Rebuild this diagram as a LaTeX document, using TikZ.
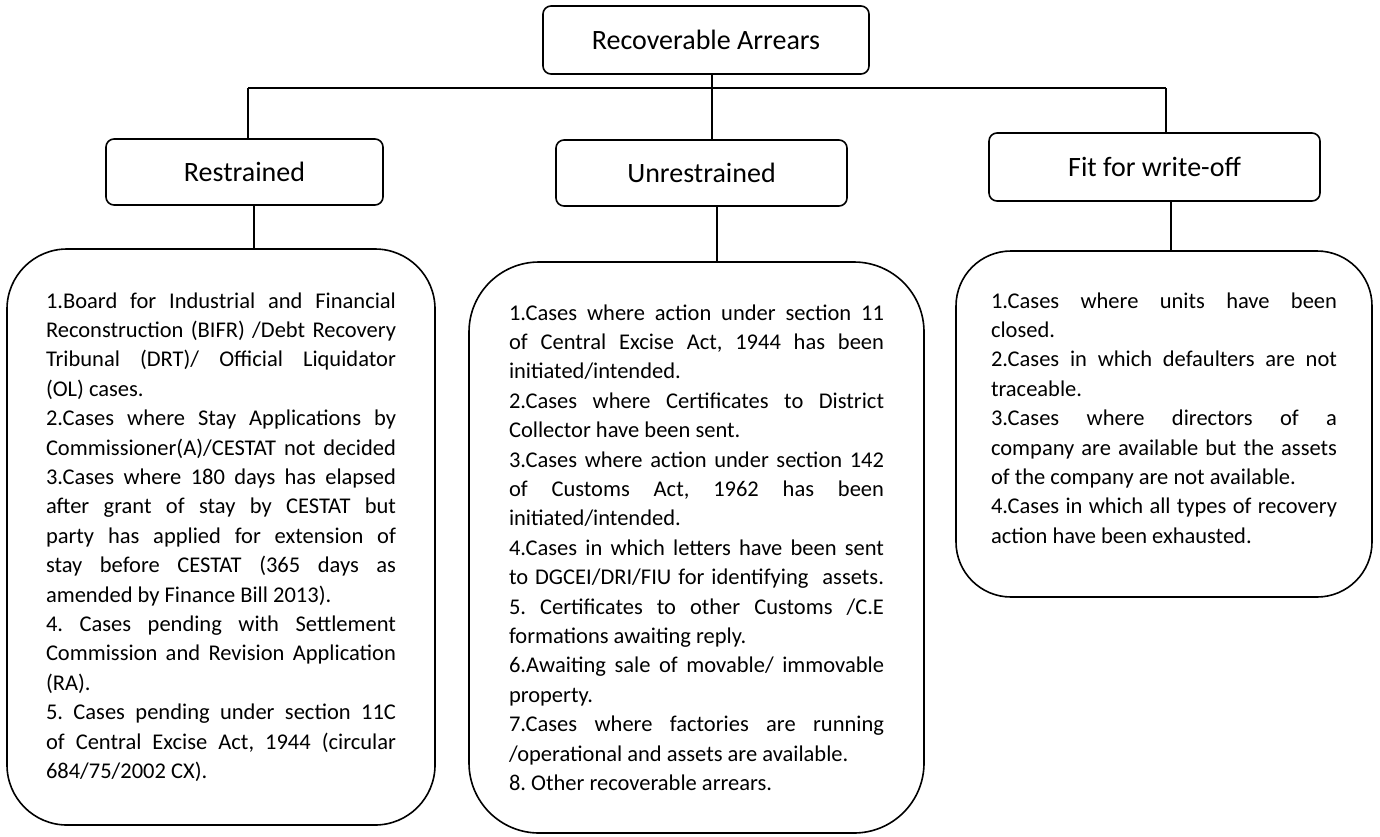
\documentclass[tikz,border=0pt]{standalone}
\usepackage{fontspec}
\setmainfont{Carlito}
\frenchspacing
\newlength\bw
\newcommand\jl[1]{\hbox to \bw{\spaceskip=\fontdimen2\font plus 1fil minus 0.3\fontdimen2\font\relax\xspaceskip=\spaceskip #1}}
\newcommand\rl[1]{\hbox to \bw{#1\hfil}}
\tikzset{
  hdr/.style={draw, line width=1.6pt, rounded corners=8pt, inner sep=0pt,
    font=\fontsize{28}{33}\selectfont},
  big/.style={draw, line width=1.6pt, inner sep=0pt,
    font=\fontsize{22.5}{29.4}\selectfont},
  conn/.style={line width=1.6pt}
}
\begin{document}
\begin{tikzpicture}[x=1pt,y=-1pt]
\useasboundingbox (0,0) rectangle (1380,836);
% header boxes
\node[hdr, minimum width=326, minimum height=68] (top) at (706,40) {Recoverable Arrears};
\node[hdr, minimum width=277, minimum height=66] (restr) at (244.5,172) {Restrained};
\node[hdr, minimum width=291, minimum height=66] (unres) at (701.5,173) {Unrestrained};
\node[hdr, minimum width=331, minimum height=68] (fit) at (1154.5,167) {Fit for write-off};
% big boxes
\node[big, rounded corners=60pt, minimum width=428, minimum height=576] (bl) at (221,537) {%
\setlength\bw{350pt}\vbox{\hsize=\bw\baselineskip=29.4pt\lineskiplimit=-20pt
\jl{1.Board for Industrial and Financial}
\jl{Reconstruction (BIFR) /Debt Recovery}
\jl{Tribunal (DRT)/ Official Liquidator}
\rl{(OL) cases.}
\jl{2.Cases where Stay Applications by}
\jl{Commissioner(A)/CESTAT not decided}
\jl{3.Cases where 180 days has elapsed}
\jl{after grant of stay by CESTAT but}
\jl{party has applied for extension of}
\jl{stay before CESTAT (365 days as}
\rl{amended by Finance Bill 2013).}
\jl{4. Cases pending with Settlement}
\jl{Commission and Revision Application}
\rl{(RA).}
\jl{5. Cases pending under section 11C}
\jl{of Central Excise Act, 1944 (circular}
\rl{684/75/2002 CX).}}};
\node[big, rounded corners=70pt, minimum width=455, minimum height=571] (bm) at (696.5,547.5) {%
\setlength\bw{375pt}\vbox{\hsize=\bw\baselineskip=29.4pt\lineskiplimit=-20pt
\jl{1.Cases where action under section 11}
\jl{of Central Excise Act, 1944 has been}
\rl{initiated/intended.}
\jl{2.Cases where Certificates to District}
\rl{Collector have been sent.}
\jl{3.Cases where action under section 142}
\jl{of Customs Act, 1962 has been}
\rl{initiated/intended.}
\jl{4.Cases in which letters have been sent}
\jl{to DGCEI/DRI/FIU for identifying\ \ assets.}
\jl{5. Certificates to other Customs /C.E}
\rl{formations awaiting reply.}
\jl{6.Awaiting sale of movable/ immovable}
\rl{property.}
\jl{7.Cases where factories are running}
\rl{/operational and assets are available.}
\rl{8. Other recoverable arrears.}}};
\node[big, rounded corners=55pt, minimum width=416, minimum height=346] (br) at (1164,424) {%
\setlength\bw{346pt}\vbox{\hsize=\bw\baselineskip=29.4pt\lineskiplimit=-20pt
\jl{1.Cases where units have been}
\rl{closed.}
\jl{2.Cases in which defaulters are not}
\rl{traceable.}
\jl{3.Cases where directors of a}
\jl{company are available but the assets}
\rl{of the company are not available.}
\jl{4.Cases in which all types of recovery}
\rl{action have been exhausted.}\kern12pt}};
% connectors
\coordinate (jL) at (248,88);
\coordinate (jR) at (1166,88);
\draw[conn] ([xshift=6pt]top.south) -- ([xshift=6pt]top.south |- unres.north);
\draw[conn] (jL) -- (jR);
\draw[conn] (jL) -- (jL |- restr.north);
\draw[conn] (jR) -- (jR |- fit.north);
\draw[conn] ([xshift=9.5pt]restr.south) -- ([xshift=9.5pt]restr.south |- bl.north);
\draw[conn] ([xshift=15.5pt]unres.south) -- ([xshift=15.5pt]unres.south |- bm.north);
\draw[conn] ([xshift=16.5pt]fit.south) -- ([xshift=16.5pt]fit.south |- br.north);
\end{tikzpicture}
\end{document}
